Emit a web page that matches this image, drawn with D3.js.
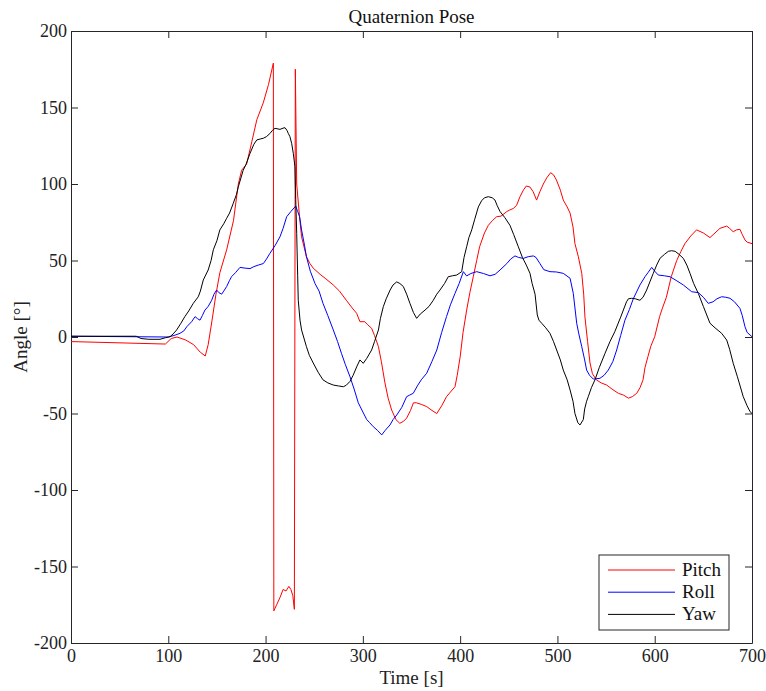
<!DOCTYPE html>
<html lang="en">
<head>
<meta charset="utf-8">
<script src="https://cdn.jsdelivr.net/npm/d3@7"></script>
<style type="text/css">
body {
	margin: 0;
	background: white;
	font-family: "Liberation Serif", serif;
}
.tick text {
	font-size: 18px;
	font-family: "Liberation Serif", serif;
	fill: #222;
}
</style>
</head>
<body>
<script type="text/javascript">

// Quaternion pose angles [time (s), angle (deg)]
var pitch = [[0,-3],[97,-4.6],[103,-1],[109,0],[118,-2],[126,-5],[133,-10],[138,-12.4],[141,-5],[145,11],[149,28],[153,42],[160,57],[167,76],[172,100],[175.4,109],[180.5,113],[186,128],[191,142],[197.6,153],[203,165],[208,179],[208.5,-179],[211.4,-175],[215,-170],[218,-165],[221,-166],[224,-163],[226,-165],[228,-169],[229.6,-178],[230.6,175],[232,100],[235,78],[237,65.5],[242,52.5],[245.6,48],[249,45],[256,41],[262,38],[269.6,34],[276,30],[283,24],[289,19],[293.6,15.5],[297,10],[302,10],[305,8],[309,5.7],[312,1],[316,-6.3],[319,-16],[322.7,-30],[326,-40],[329.6,-47.7],[334,-54],[338,-56.4],[342,-55],[345,-53],[349,-48],[352,-43],[355,-43],[360,-44],[365.6,-45.5],[371,-48],[376,-50],[381,-45],[386,-39],[390,-36],[394.7,-32.5],[397,-25],[400,-13],[403,3],[406.7,17.6],[410,29],[413.5,39.4],[417,50],[420,59],[425,68],[429,73],[433,76],[437.5,78.6],[442,79],[448,82],[451,83],[454.6,84],[458,86],[461.5,91.7],[465,96],[468,98.7],[471.8,98],[475,95],[478.6,89.5],[482,95],[485.5,100],[489,104],[493,107.4],[496,106],[499,102.6],[503,96],[506,89.5],[510,85],[513,81],[516,72],[518,61],[521.5,52.5],[525,41.6],[527,28],[528.3,13],[531,-3],[533.5,-17],[536,-24],[540,-28],[545,-30],[550.6,-31.4],[556,-34],[562.6,-36.8],[568,-38],[573,-40],[577,-39],[581.5,-36.8],[585,-33],[588,-28],[590,-20],[593,-12.9],[596,-6],[600,0.2],[605,13.3],[608,19],[612,26],[617,39.4],[622.6,50],[627,56],[631,61],[637,66],[643,70],[650,68],[656.8,65],[662,68],[667,71],[674,72.5],[677,71],[680.7,68.8],[684,70],[687.6,70.4],[690,67],[692.8,63.4],[695,62],[700,61]];

var roll = [[0,0.5],[100,0],[106,1],[112,2.4],[116,4],[119,6.7],[124,10],[127.5,13.3],[130,12],[132.6,11],[135,14],[137.7,17.6],[141,20],[144.6,24],[147,28],[149.7,30.7],[152,29],[154.9,28],[157,30],[160,33],[163,37],[165,39.4],[169,42],[173.7,45.5],[179,45],[184,44.7],[188,46],[192.5,47],[197.7,48],[201,51],[204.5,54.7],[210,60],[214.8,65.5],[218,71],[221.7,78.6],[226,82],[231,85.6],[233,82],[235,78.6],[237,70],[240,60],[242,52.5],[246,43],[250.8,35],[255,30],[259,22],[264,14],[269.6,4.6],[274,-3],[278,-10.7],[282,-18],[286.8,-26],[291,-34],[295.3,-43],[300,-49],[304,-54],[307,-56],[310.7,-58.6],[315,-61],[319.4,-64],[323,-61],[327.9,-57.5],[331,-54],[334.8,-51],[340,-46],[345,-39],[348,-38],[351.8,-36.8],[356,-32],[360,-28],[365.6,-23.7],[371,-16],[376,-8.5],[381,3],[386,13.3],[390,21],[394.7,28.5],[399,35],[403.3,42.7],[406.7,39.9],[411,41.5],[417,42.7],[424,41.5],[430.7,40],[436,41],[441,43.8],[448,48],[452,51],[456.4,53],[460,52],[465,51.4],[470,52.5],[475.2,53],[478,52],[482,48],[486,44],[492.3,42.7],[499,42.5],[506,41.6],[513,38.4],[516.3,28.5],[519.8,9],[522,2],[525,-6.3],[528,-15],[530,-21.6],[533,-25],[536.9,-27.5],[543.7,-27],[548,-25],[552.3,-21.6],[557,-16],[560.9,-8.5],[565,1],[569.4,11],[574,18],[578,25],[584.8,34],[590,39.4],[593,42],[596.9,45.5],[600,43],[603.7,40.5],[610,40],[615.7,39.4],[622,37],[629.4,34],[638,29.6],[644.8,29],[650,26],[655,22],[660,23],[664,25],[668.8,26.3],[673,26],[677.4,25.3],[682,23],[687.6,18.7],[690,14],[692.8,6.7],[695,3],[700,0.2]];

var yaw = [[0,0.5],[67,0.5],[72,-1],[80,-1.5],[91.5,-1.5],[97,-0.5],[101.8,0.2],[105,2],[108.6,4.6],[113,9],[117,13.3],[121,17],[125.7,22],[130.8,26.3],[133,30],[136,37.3],[141,43.8],[144,50],[146.3,57],[150,63],[153,70],[157,74],[160,77.6],[163,81],[166.8,87.4],[170,93],[172,98.2],[177,109],[180,113],[184,120],[188,126],[191,128.8],[195,129.5],[197.7,129.9],[201,131],[204.5,133],[207,135],[209.7,136.4],[214.8,135.7],[218,136.5],[220,136.8],[222,135],[223.4,133],[225,131],[226.8,126.6],[228.5,120],[230.2,111.3],[231,90],[232,67.8],[233,40],[233.6,24],[235.4,11],[237,4.6],[242,-6.3],[245,-12],[249,-17],[254,-23],[259,-28],[264,-30],[269.6,-31.4],[275,-32],[280,-32.5],[283,-31.5],[286.8,-29],[290,-25],[294,-19],[297,-15],[300.4,-17.2],[304,-14],[309,-8.5],[312,-3],[316,4.6],[318,12],[321,19.8],[324,25],[328,30.7],[331,34],[334.8,36],[338,35],[341.6,33],[345,28],[348.4,22],[352,16],[355.3,12.2],[359,15],[363.9,17.6],[368,20],[372.4,24],[376,28],[379.3,30.7],[384,35],[387.8,39.4],[392,40],[396.5,40.5],[401.6,42.7],[404,52],[406.7,59],[409,65],[411.9,70],[415,77],[418.7,85],[422,89],[425,91],[429,91.7],[433,91],[435.8,89.5],[438,86],[441,82],[446,78],[451.2,73],[455,67],[459.8,59],[464,52],[468,47],[471.8,41.6],[474,35],[477,28],[479.3,14.4],[481,11],[483.8,9],[488,6],[492.3,2.4],[496,-3],[499.2,-8.5],[503,-15],[506,-21.6],[510,-28],[513,-34.6],[516,-42],[518,-50],[521,-56],[523.2,-57.5],[526.6,-54],[528,-47],[530,-42],[531.7,-39],[535,-33],[538.6,-28],[543,-20],[548.9,-10.7],[554,-3],[559,3.5],[565,13],[571,23],[573,25],[576.3,25.3],[580,25],[584.8,24],[588,26],[591.7,30.7],[595,36],[598.5,41.6],[602,47],[605.4,51.4],[610,54],[614,56],[617.4,56.4],[621,56],[625,54],[629.4,51.4],[633,47],[636.3,41.6],[640,35],[644.8,28.5],[650,20],[656.8,9],[662,6],[668.8,2.4],[674,-2],[677,-8],[680.7,-17.2],[685,-26],[691,-39],[695,-45],[698,-48.8],[700,-50]];

var seriesNames = ["Pitch", "Roll", "Yaw"];
var seriesColors = ["#ff0000", "#0000ff", "#000000"];
var xTicks = [0, 100, 200, 300, 400, 500, 600, 700];
var yTicks = [-200, -150, -100, -50, 0, 50, 100, 150, 200];

var width = 766, height = 691;
var margin = {top: 31, right: 14, bottom: 48, left: 71};
var w = width - margin.left - margin.right;
var h = height - margin.top - margin.bottom;

var svg = d3.select("body").append("svg")
	.attr("width", width)
	.attr("height", height);

var x = d3.scaleLinear().domain([0, 700]).range([0, w]);
var y = d3.scaleLinear().domain([-200, 200]).range([h, 0]);

var g = svg.append("g").attr("transform", "translate(" + margin.left + "," + margin.top + ")");

g.append("clipPath").attr("id", "clip")
	.append("rect").attr("width", w).attr("height", h);

// axes - ticks point inward, on all four sides (matlab style)
var fmt = function(d) { return String(d).replace("−", "-"); };
var axisColor = "#262626";

var xb = g.append("g").attr("transform", "translate(0," + h + ")")
	.call(d3.axisBottom(x).tickValues(xTicks).tickSizeInner(-7).tickSizeOuter(0).tickPadding(9).tickFormat(fmt));
var xt = g.append("g")
	.call(d3.axisTop(x).tickValues(xTicks).tickSizeInner(-7).tickSizeOuter(0).tickFormat(""));
var yl = g.append("g")
	.call(d3.axisLeft(y).tickValues(yTicks).tickSizeInner(-7).tickSizeOuter(0).tickPadding(4).tickFormat(fmt));
var yr = g.append("g").attr("transform", "translate(" + w + ",0)")
	.call(d3.axisRight(y).tickValues(yTicks).tickSizeInner(-7).tickSizeOuter(0).tickFormat(""));

[xb, xt, yl, yr].forEach(function(a) {
	a.selectAll("path, line").attr("stroke", axisColor);
});
xb.selectAll(".tick text").attr("dy", "0.55em");

// lines
var line = d3.line()
	.x(function(d) { return x(d[0]); })
	.y(function(d) { return y(d[1]); });

var allSeries = [pitch, roll, yaw];
g.append("g").attr("clip-path", "url(#clip)")
	.selectAll("path")
	.data(allSeries)
	.enter()
	.append("path")
	.attr("d", line)
	.attr("fill", "none")
	.attr("stroke", function(d, i) { return seriesColors[i]; })
	.attr("stroke-width", 1);

// title and labels
svg.append("text")
	.attr("x", margin.left + w / 2)
	.attr("y", 23)
	.attr("text-anchor", "middle")
	.style("font-size", "19px")
	.style("fill", "#111")
	.text("Quaternion Pose");

svg.append("text")
	.attr("x", margin.left + w / 2)
	.attr("y", 684)
	.attr("text-anchor", "middle")
	.style("font-size", "19px")
	.style("fill", "#222")
	.text("Time [s]");

svg.append("text")
	.attr("transform", "translate(27," + (margin.top + h / 2) + ") rotate(-90)")
	.attr("text-anchor", "middle")
	.style("font-size", "19px")
	.style("fill", "#222")
	.text("Angle [°]");

// legend
var legend = g.append("g").attr("transform", "translate(" + (w - 153) + "," + (h - 88) + ")");
legend.append("rect")
	.attr("width", 130).attr("height", 75)
	.attr("fill", "white")
	.attr("stroke", axisColor);

seriesNames.forEach(function(name, i) {
	var ly = 15 + i * 22.2;
	legend.append("line")
		.attr("x1", 9).attr("x2", 76)
		.attr("y1", ly).attr("y2", ly)
		.attr("stroke", seriesColors[i]);
	legend.append("text")
		.attr("x", 83).attr("y", ly + 6)
		.style("font-size", "19px")
		.style("fill", "#111")
		.text(name);
});

</script>
</body>
</html>
